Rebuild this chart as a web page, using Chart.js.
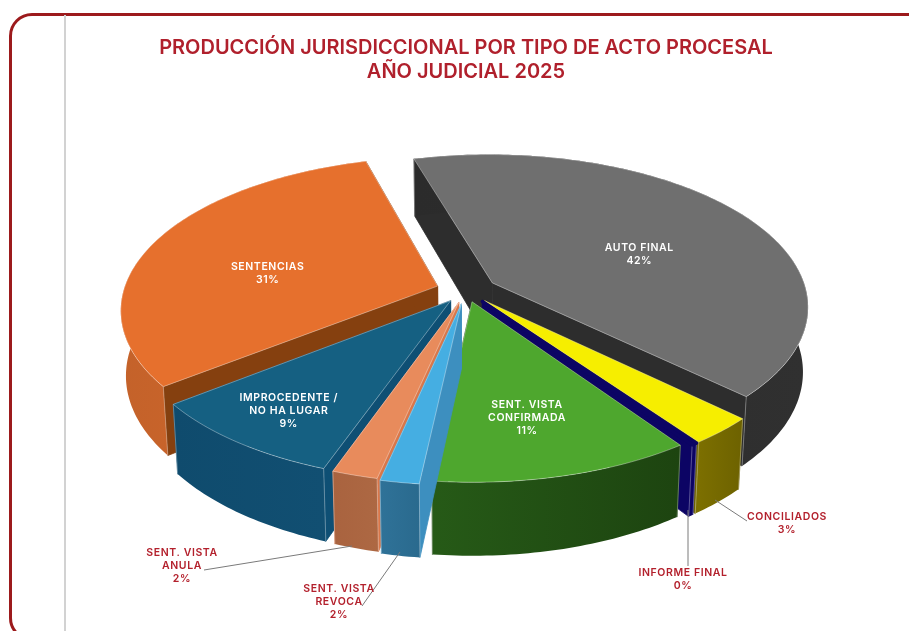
<!DOCTYPE html>
<html>
<head>
<meta charset="utf-8">
<script src="https://cdn.jsdelivr.net/npm/chart.js@4"></script>
<style>
  html, body { margin: 0; padding: 0; background: #fff; overflow: hidden; }
  #wrap { position: relative; width: 909px; height: 631px; overflow: hidden; }
  #frame { position: absolute; left: 9px; top: 13px; width: 920px; height: 622px; border: 3px solid #9c1a1c; border-radius: 23px; }
  #rule { position: absolute; left: 64px; top: 15px; width: 1.5px; height: 616px; background: #d2d2d2; }
  canvas { position: absolute; left: 0; top: 0; }
</style>
</head>
<body>
<div id="wrap">
  <div id="frame"></div>
  <div id="rule"></div>
  <canvas id="pieChart" width="909" height="631"></canvas>
</div>
<script>
// ===============================
// DATA
// ===============================
const categories = ["AUTO FINAL", "CONCILIADOS", "INFORME FINAL", "SENT. VISTA CONFIRMADA", "SENT. VISTA REVOCA", "SENT. VISTA ANULA", "IMPROCEDENTE / NO HA LUGAR", "SENTENCIAS"];
const values = [41.6, 2.9, 0.25, 11.45, 1.7, 2, 9, 31.1];
const labelLines = [["AUTO FINAL"], ["CONCILIADOS"], ["INFORME FINAL"], ["SENT. VISTA", "CONFIRMADA"], ["SENT. VISTA", "REVOCA"], ["SENT. VISTA", "ANULA"], ["IMPROCEDENTE /", "NO HA LUGAR"], ["SENTENCIAS"]];
const titleLines = ["PRODUCCIÓN JURISDICCIONAL POR TIPO DE ACTO PROCESAL", "AÑO JUDICIAL 2025"];

// ===============================
// STYLES
// ===============================
const topColors = ["#6f6f6f", "#f6ee00", "#0c0464", "#4ea72e", "#45aee2", "#e88b5c", "#156082", "#e6702d"];
const wallColors = [["#2b2b2b", "#303030"], ["#7c6f00", "#6d6200"], ["#0c0464", "#0c0464"], ["#265a17", "#1d4410"], ["#2f7298", "#2a6a8e"], ["#a9633f", "#ad6843"], ["#0f4b6d", "#114f72"], ["#c4622a", "#d5692b"]];
const cutColors = ["#2d2d2d", "#6d6200", "#0c0464", "#1d4410", "#3d8fbf", "#d9774a", "#0e4f74", "#85400f"];
const sliceOffsets = [31, 28, 28, 24, 28, 26, 26, 30];
const labelReach = [0.58, 0, 0, 0.63, 0, 0, 0.78, 0.59];
const labelDrop = [14, 0, 0, 13, 0, 0, 3, 14];
const faceStroke = [0.8, 0.8, 3.5, 0.8, 0.8, 0.8, 0.8, 0.8];

// labels that sit outside the pie, with their leader lines
const outsideLabels = {
  1: { x: 787, y: 517, line: [715, 500, 747, 521] },
  2: { x: 683, y: 573, line: [688, 510, 688, 566] },
  4: { x: 339, y: 589, line: [400, 552, 362, 606] },
  5: { x: 182, y: 553, line: [352, 546, 204, 570] }
};

// perspective of the pie floor
const tilt = 0.477;
const perspective = 0.15;
const depth = 64;
const floorShrink = 0.985;

// ===============================
// 3D PIE PLUGIN
// ===============================
function project(meta, px, py, lowered) {
  const first = meta.data[0];
  const R = first.outerRadius;
  const u = (px - first.x) / R;
  const v = (py - first.y) / R;
  const w = 1 - perspective * v;
  const shrink = lowered ? floorShrink : 1;
  return {
    x: first.x + R * u / w * shrink,
    y: first.y + tilt * R * v / w + (lowered ? depth / (1 - 0.12 * v) : 0)
  };
}

function sliceGeometry(arc, i) {
  const mid = (arc.startAngle + arc.endAngle) / 2;
  const off = sliceOffsets[i];
  const ax = arc.x + Math.cos(mid) * off;
  const ay = arc.y + Math.sin(mid) * off;
  const rim = [];
  const steps = Math.max(2, Math.ceil((arc.endAngle - arc.startAngle) * 60));
  for (let s = 0; s <= steps; s++) {
    const a = arc.startAngle + (arc.endAngle - arc.startAngle) * s / steps;
    rim.push([ax + Math.cos(a) * arc.outerRadius, ay + Math.sin(a) * arc.outerRadius]);
  }
  return { ax, ay, mid, rim };
}

function tracePoly(ctx, pts) {
  ctx.beginPath();
  pts.forEach((p, n) => n ? ctx.lineTo(p.x, p.y) : ctx.moveTo(p.x, p.y));
  ctx.closePath();
}

const pie3d = {
  id: "pie3d",
  beforeDatasetsDraw(chart) {
    const ctx = chart.ctx;
    const meta = chart.getDatasetMeta(0);
    const edge = "rgba(255,255,255,0.4)";

    const order = meta.data.map((arc, i) => ({ arc, i, g: sliceGeometry(arc, i) }));
    order.sort((a, b) => Math.sin(a.g.mid) - Math.sin(b.g.mid));

    ctx.save();
    ctx.lineJoin = "round";
    order.forEach(({ i, g }) => {
      const topRim = g.rim.map(p => project(meta, p[0], p[1], false));
      const lowRim = g.rim.map(p => project(meta, p[0], p[1], true));
      const apexTop = project(meta, g.ax, g.ay, false);
      const apexLow = project(meta, g.ax, g.ay, true);
      ctx.lineWidth = 0.8;

      // cut faces
      ctx.fillStyle = cutColors[i];
      ctx.strokeStyle = cutColors[i];
      tracePoly(ctx, [apexTop, topRim[0], lowRim[0], apexLow]);
      ctx.fill(); ctx.stroke();
      const lastT = topRim[topRim.length - 1];
      const lastL = lowRim[lowRim.length - 1];
      tracePoly(ctx, [apexTop, lastT, lastL, apexLow]);
      ctx.fill(); ctx.stroke();

      // outer wall
      const xs = topRim.map(p => p.x);
      const grad = ctx.createLinearGradient(Math.min(...xs), 0, Math.max(...xs), 0);
      grad.addColorStop(0, wallColors[i][0]);
      grad.addColorStop(1, wallColors[i][1]);
      ctx.fillStyle = grad;
      tracePoly(ctx, topRim.concat(lowRim.slice().reverse()));
      ctx.fill();

      // corner edges
      ctx.strokeStyle = edge;
      ctx.beginPath();
      ctx.moveTo(topRim[0].x, topRim[0].y);
      ctx.lineTo(lowRim[0].x, lowRim[0].y);
      ctx.moveTo(lastT.x, lastT.y);
      ctx.lineTo(lastL.x, lastL.y);
      ctx.stroke();

      // top face
      ctx.fillStyle = topColors[i];
      tracePoly(ctx, [apexTop].concat(topRim));
      ctx.fill();
      if (faceStroke[i] > 1) {
        // the thinnest slice is shown as a band
        ctx.lineWidth = faceStroke[i];
        ctx.strokeStyle = topColors[i];
      } else {
        ctx.strokeStyle = "rgba(255,255,255,0.45)";
      }
      ctx.stroke();
    });
    ctx.restore();
    return false;
  },
  afterDraw(chart) {
    const ctx = chart.ctx;
    const meta = chart.getDatasetMeta(0);
    const total = values.reduce((a, b) => a + b, 0);

    ctx.save();
    ctx.textAlign = "center";
    ctx.textBaseline = "middle";
    ctx.font = "600 10.5px Inter";
    ctx.letterSpacing = "0.6px";
    meta.data.forEach((arc, i) => {
      const lines = labelLines[i].concat(Math.round(values[i] / total * 100) + "%");
      const out = outsideLabels[i];
      let x, y;
      if (out) {
        ctx.strokeStyle = "#7a7a7a";
        ctx.lineWidth = 1;
        ctx.beginPath();
        ctx.moveTo(out.line[0], out.line[1]);
        ctx.lineTo(out.line[2], out.line[3]);
        ctx.stroke();
        x = out.x;
        y = out.y;
        ctx.fillStyle = "#b3202c";
      } else {
        const g = sliceGeometry(arc, i);
        const reach = arc.outerRadius * labelReach[i];
        const p = project(meta, g.ax + Math.cos(g.mid) * reach, g.ay + Math.sin(g.mid) * reach, false);
        x = p.x;
        y = p.y - (lines.length - 1) * 6.5 + labelDrop[i];
        ctx.fillStyle = "#ffffff";
      }
      lines.forEach((t, n) => ctx.fillText(t, x, y + n * 13));
    });
    ctx.restore();
  }
};

// ===============================
// CHART
// ===============================
const canvas = document.getElementById("pieChart");
canvas.getContext("2d").letterSpacing = "0.55px";

new Chart(canvas, {
  type: "pie",
  data: {
    labels: categories,
    datasets: [{ data: values, backgroundColor: topColors, borderWidth: 0 }]
  },
  options: {
    responsive: false,
    animation: false,
    rotation: -16,
    radius: 314,
    layout: { padding: { left: 23, bottom: 134 } },
    plugins: {
      legend: { display: false },
      tooltip: { enabled: false },
      title: {
        display: true,
        text: titleLines,
        color: "#b0202c",
        font: { family: "Inter", size: 20, weight: "600", lineHeight: 1.2 },
        padding: { top: 36, bottom: 0 }
      }
    }
  },
  plugins: [pie3d]
});
</script>
</body>
</html>
